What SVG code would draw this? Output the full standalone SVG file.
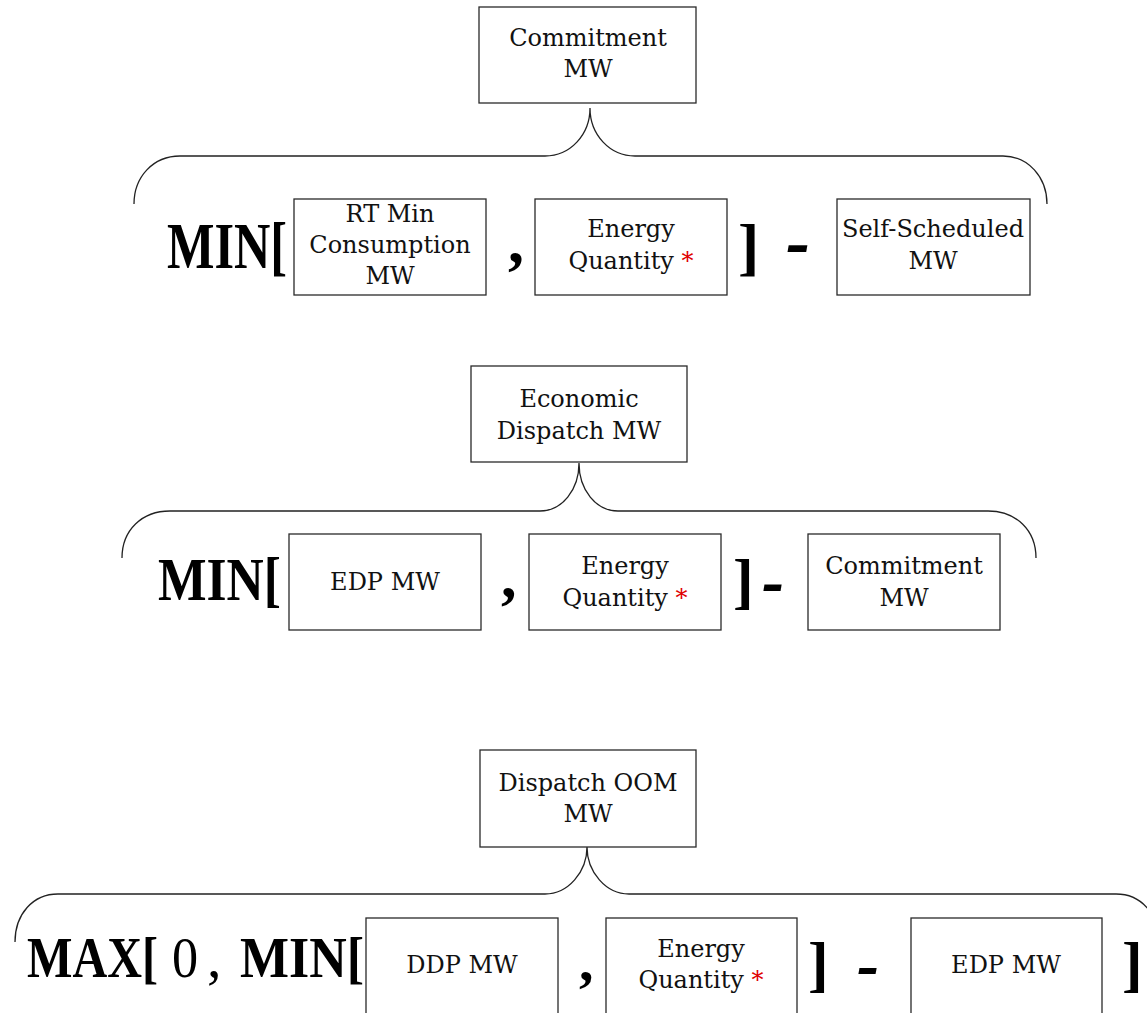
<svg xmlns="http://www.w3.org/2000/svg" width="1147" height="1013" viewBox="0 0 1147 1013">
  <style>
    .box { fill: #ffffff; stroke: #2a2a2a; stroke-width: 1.3; }
    .lbl { font-family: "DejaVu Serif", "Liberation Serif", serif; font-size: 24px; fill: #111; text-anchor: middle; }
    .big { font-family: "Liberation Serif", "DejaVu Serif", serif; font-weight: bold; fill: #000; }
    .num { font-family: "Liberation Serif", "DejaVu Serif", serif; fill: #000; }
    .dash { font-family: "Liberation Serif", "DejaVu Serif", serif; font-weight: bold; font-style: italic; fill: #000; }
    .star { fill: #e00000; }
    .brace { fill: none; stroke: #222; stroke-width: 1.3; }
  </style>
  <rect width="1147" height="1013" fill="#ffffff"/>

  <!-- braces joining each result box to its formula -->
  <g id="connectors">
    <path class="brace" d="M134,204 C134,177 153,156 180,156 L545,156 C570,156 590,135 590,108 C590,135 610,156 635,156 L1003,156 C1028,156 1047,177 1047,204"/>
    <path class="brace" d="M122,558 C122,530 142,511 170,511 L540,511 C562,511 579,490 579,463 C579,490 596,511 618,511 L988,511 C1016,511 1036,530 1036,558"/>
    <path class="brace" d="M15,942 C15,914 33,894 58,894 L545,894 C568,894 587,872 587,847 C587,872 606,894 629,894 L1116,894 C1141,894 1159,914 1159,942"/>
  </g>

  <!-- Formula 1: Commitment MW -->
  <g id="commitment-mw">
    <rect class="box" x="479" y="7" width="217" height="96"/>
    <text class="lbl" x="588" y="46">Commitment</text>
    <text class="lbl" x="588" y="77">MW</text>
  </g>
  <text class="big" font-size="66" transform="translate(167,268) scale(0.762,1)">MIN[</text>
  <g id="rt-min-consumption-mw">
    <rect class="box" x="294" y="199" width="192" height="96"/>
    <text class="lbl" x="390" y="222">RT Min</text>
    <text class="lbl" x="390" y="253">Consumption</text>
    <text class="lbl" x="390" y="284">MW</text>
  </g>
  <text class="big" x="508" y="262" font-size="64">,</text>
  <g id="energy-quantity-1">
    <rect class="box" x="535" y="199" width="192" height="96"/>
    <text class="lbl" x="631" y="237">Energy</text>
    <text class="lbl" x="631" y="269">Quantity <tspan class="star">*</tspan></text>
  </g>
  <text class="big" x="738" y="268" font-size="64">]</text>
  <text class="dash" font-size="80" transform="translate(786,268) scale(0.9,1)">-</text>
  <g id="self-scheduled-mw">
    <rect class="box" x="837" y="199" width="193" height="96"/>
    <text class="lbl" x="933" y="237" font-size="23">Self-Scheduled</text>
    <text class="lbl" x="933" y="269">MW</text>
  </g>

  <!-- Formula 2: Economic Dispatch MW -->
  <g id="economic-dispatch-mw">
    <rect class="box" x="471" y="366" width="216" height="96"/>
    <text class="lbl" x="579" y="407">Economic</text>
    <text class="lbl" x="579" y="439">Dispatch MW</text>
  </g>
  <text class="big" font-size="62" transform="translate(158,600) scale(0.83,1)">MIN[</text>
  <g id="edp-mw-1">
    <rect class="box" x="289" y="534" width="192" height="96"/>
    <text class="lbl" x="385" y="590">EDP MW</text>
  </g>
  <text class="big" x="501" y="597" font-size="62">,</text>
  <g id="energy-quantity-2">
    <rect class="box" x="529" y="534" width="192" height="96"/>
    <text class="lbl" x="625" y="574">Energy</text>
    <text class="lbl" x="625" y="606">Quantity <tspan class="star">*</tspan></text>
  </g>
  <text class="big" x="733" y="602" font-size="62">]</text>
  <text class="dash" font-size="76" transform="translate(762,606) scale(0.87,1)">-</text>
  <g id="commitment-mw-2">
    <rect class="box" x="808" y="534" width="192" height="96"/>
    <text class="lbl" x="904" y="574">Commitment</text>
    <text class="lbl" x="904" y="606">MW</text>
  </g>

  <!-- Formula 3: Dispatch OOM MW -->
  <g id="dispatch-oom-mw">
    <rect class="box" x="480" y="750" width="216" height="97"/>
    <text class="lbl" x="588" y="791">Dispatch OOM</text>
    <text class="lbl" x="588" y="822">MW</text>
  </g>
  <text class="big" font-size="58" transform="translate(27,977) scale(0.83,1)">MAX[</text>
  <text class="num" font-size="58" transform="translate(172,977) scale(0.9,1)">0</text>
  <text class="num" x="207" y="977" font-size="58">,</text>
  <text class="big" font-size="58" transform="translate(240,977) scale(0.895,1)">MIN[</text>
  <g id="ddp-mw">
    <rect class="box" x="366" y="918" width="192" height="110"/>
    <text class="lbl" x="462" y="973">DDP MW</text>
  </g>
  <text class="big" x="579" y="980" font-size="58">,</text>
  <g id="energy-quantity-3">
    <rect class="box" x="606" y="918" width="191" height="110"/>
    <text class="lbl" x="701" y="957">Energy</text>
    <text class="lbl" x="701" y="988">Quantity <tspan class="star">*</tspan></text>
  </g>
  <text class="big" x="808" y="985" font-size="62">]</text>
  <text class="dash" font-size="72" transform="translate(857,988) scale(0.92,1)">-</text>
  <g id="edp-mw-2">
    <rect class="box" x="911" y="918" width="191" height="110"/>
    <text class="lbl" x="1006" y="973">EDP MW</text>
  </g>
  <text class="big" x="1122" y="985" font-size="62">]</text>
</svg>
